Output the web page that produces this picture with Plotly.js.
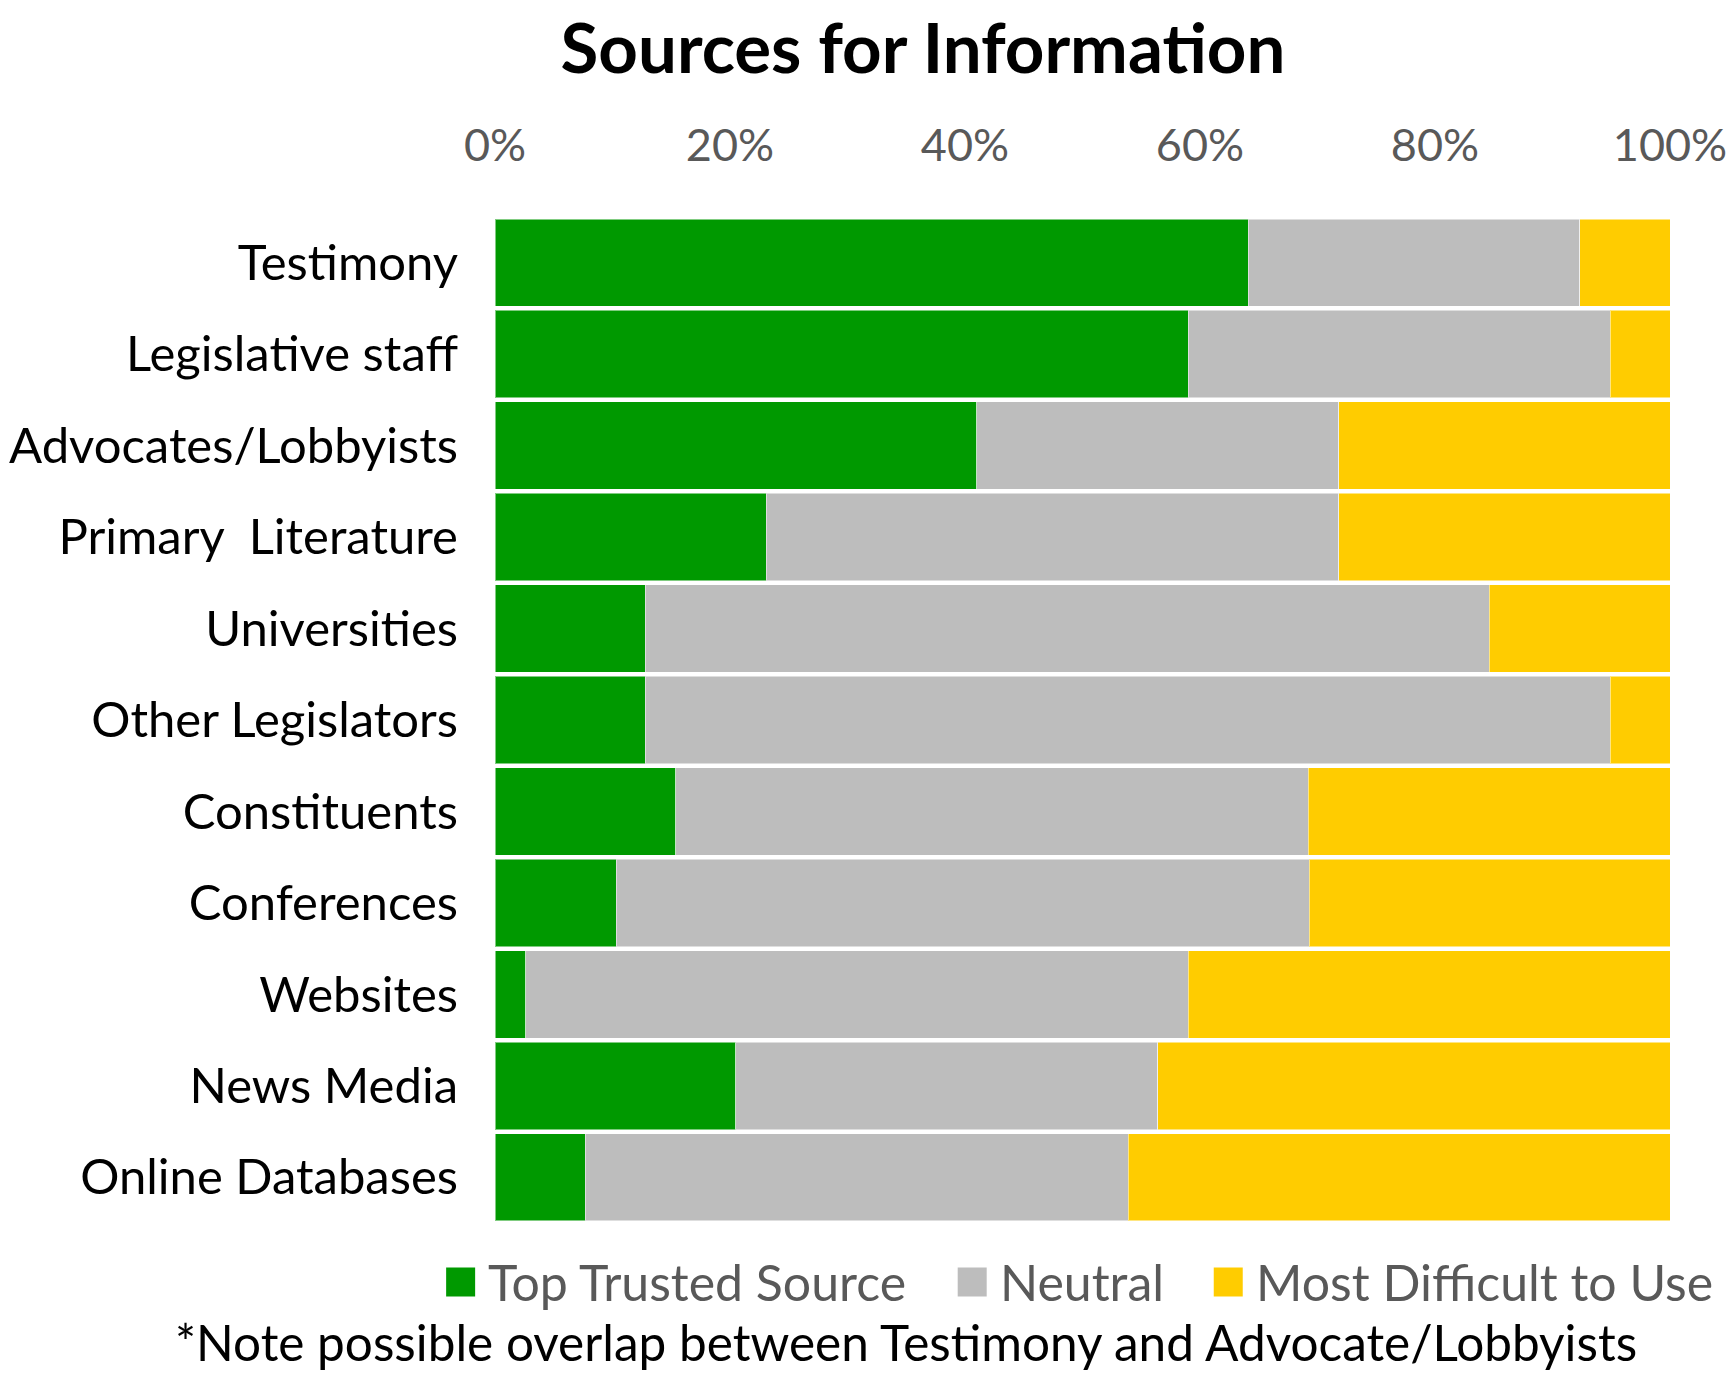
<!DOCTYPE html>
<html>
<head>
<meta charset="utf-8">
<script src="https://cdn.plot.ly/plotly-3.0.1.min.js"></script>
<style>html,body{margin:0;padding:0;background:#fff;}#chart{width:1728px;height:1397px;}</style>
</head>
<body>
<div id="chart"></div>
<script>
// Categories (top to bottom)
const categories = ["Testimony","Legislative staff","Advocates/Lobbyists","Primary  Literature","Universities","Other Legislators","Constituents","Conferences","Websites","News Media","Online Databases"];
// Percent of respondents
const topTrusted = [64.1, 59.0, 41.0, 23.1, 12.8, 12.8, 15.4, 10.3, 2.6, 20.5, 7.7];
const neutral    = [28.2, 35.9, 30.8, 48.7, 71.8, 82.1, 53.8, 59.0, 56.4, 35.9, 46.2];
const difficult  = [7.7, 5.1, 28.2, 28.2, 15.4, 5.1, 30.8, 30.7, 41.0, 43.6, 46.1];
const seriesNames = ["Top Trusted Source","Neutral","Most Difficult to Use"];
const seriesColors = ["#009900","#BDBDBD","#FFCC00"];
const tickVals = [0,20,40,60,80,100];
const tickText = ["0%","20%","40%","60%","80%","100%"];

const font = "Lato, 'Open Sans', sans-serif";
const W = 1728, H = 1397;
const M = {l: 495, r: 58, t: 217, b: 174};
const plotW = W - M.l - M.r, plotH = H - M.t - M.b;
const px2x = px => (px - M.l) / plotW;
const px2y = py => (H - M.b - py) / plotH;

const seriesData = [topTrusted, neutral, difficult];
const traces = seriesData.map((vals, i) => ({
  type: "bar",
  orientation: "h",
  name: seriesNames[i],
  y: categories,
  x: vals,
  showlegend: false,
  marker: {color: seriesColors[i], line: {color: "rgba(255,255,255,0.5)", width: 1}},
  hoverinfo: "name+x"
}));

// Custom legend (large square swatches like the original)
const legFont = 50, sw = 29, swGap = 14, itemGap = 49, legCenter = 1080, legY = 1282;
const ctx = document.createElement("canvas").getContext("2d");
ctx.font = legFont + "px Lato";
const textW = seriesNames.map(n => ctx.measureText(n).width);
const total = textW.reduce((a, b) => a + b, 0) + seriesNames.length * (sw + swGap) + (seriesNames.length - 1) * itemGap;
let cx = legCenter - total / 2;
const shapes = [], annotations = [];
seriesNames.forEach((n, i) => {
  shapes.push({type: "rect", xref: "paper", yref: "paper",
    x0: px2x(cx), x1: px2x(cx + sw), y0: px2y(legY + sw / 2), y1: px2y(legY - sw / 2),
    fillcolor: seriesColors[i], line: {width: 0}});
  annotations.push({text: n, xref: "paper", yref: "paper", x: px2x(cx + sw + swGap - 3), y: px2y(legY),
    xanchor: "left", yanchor: "middle", showarrow: false,
    font: {family: font, size: legFont, color: "#595959"}});
  cx += sw + swGap + textW[i] + itemGap;
});
annotations.push({text: "*Note possible overlap between Testimony and Advocate/Lobbyists",
  xref: "paper", yref: "paper", x: px2x(906), y: px2y(1342), xanchor: "center", yanchor: "middle",
  showarrow: false, font: {family: font, size: 49.5, color: "#000"}});

const layout = {
  width: W, height: H,
  margin: M,
  paper_bgcolor: "#fff", plot_bgcolor: "#fff",
  barmode: "stack",
  bargap: 0.044,
  showlegend: false,
  title: {text: "<b>Sources for Information</b>", font: {family: font, size: 69, color: "#000"},
          xref: "container", x: 923 / W, xanchor: "center", yref: "container", y: 1 - 49 / H, yanchor: "middle"},
  xaxis: {side: "top", range: [0, 100], tickvals: tickVals, ticktext: tickText,
          showgrid: false, zeroline: false, showline: false, ticks: "",
          ticklabelstandoff: 46,
          tickfont: {family: font, size: 45, color: "#595959"}, fixedrange: true},
  yaxis: {autorange: "reversed", type: "category", showgrid: false, zeroline: false, showline: false,
          ticks: "", ticklabelstandoff: 36,
          tickfont: {family: font, size: 49, color: "#000"}, fixedrange: true},
  shapes: shapes,
  annotations: annotations
};

Plotly.newPlot("chart", traces, layout, {displayModeBar: false, staticPlot: true});
</script>
</body>
</html>
